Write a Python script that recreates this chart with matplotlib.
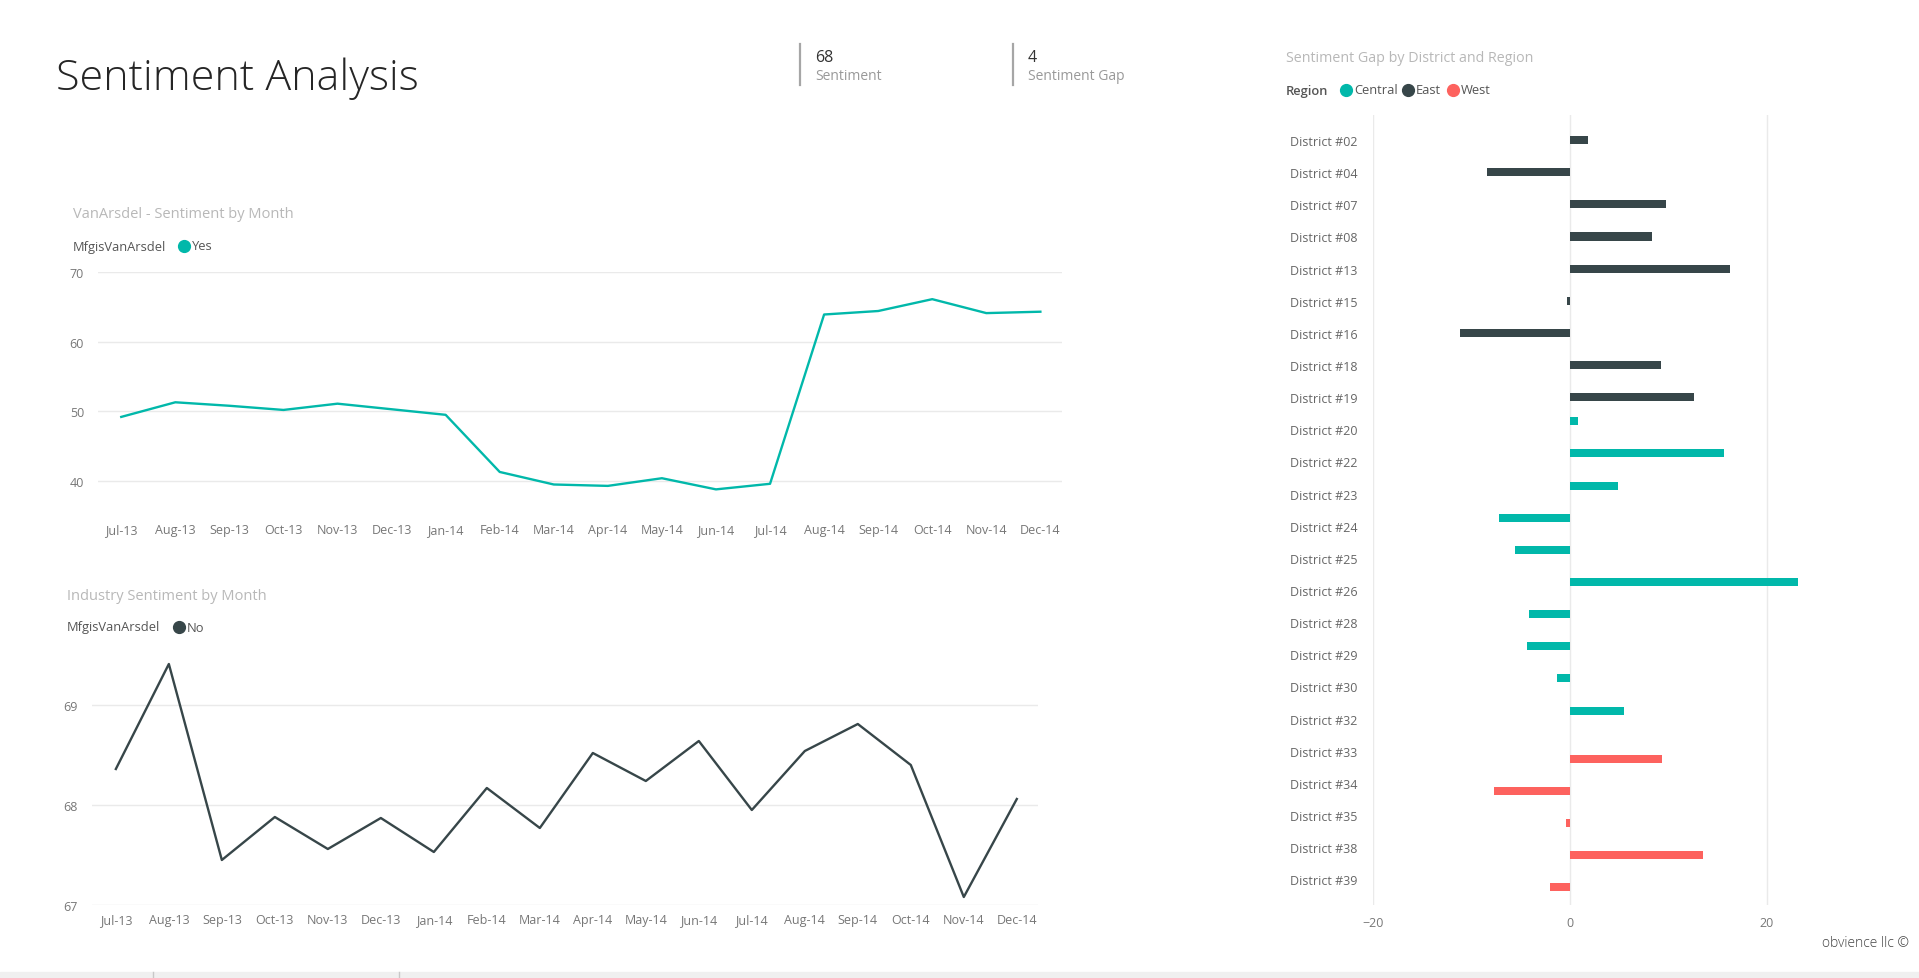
import matplotlib
matplotlib.use("Agg")
import matplotlib.pyplot as plt
from matplotlib.lines import Line2D
import numpy as np

W, H = 1919, 979
OUT_FIG = "out.png"

TEAL = "#01B8AA"
DARK = "#374649"
RED = "#FD625E"
GRID = "#eaeaea"
TICK = "#777777"
TITLE_GREY = "#b8b8b8"

MONTHS = ["Jul-13", "Aug-13", "Sep-13", "Oct-13", "Nov-13", "Dec-13",
          "Jan-14", "Feb-14", "Mar-14", "Apr-14", "May-14", "Jun-14",
          "Jul-14", "Aug-14", "Sep-14", "Oct-14", "Nov-14", "Dec-14"]

# VanArsdel (MfgisVanArsdel = Yes)
vanarsdel = [49.2, 51.3, 50.8, 50.2, 51.1, 50.3, 49.5, 41.3, 39.5,
             39.3, 40.4, 38.8, 39.6, 63.9, 64.4, 66.1, 64.1, 64.3]

# industry (MfgisVanArsdel = No)
industry = [68.36, 69.41, 67.45, 67.88, 67.56, 67.87, 67.53, 68.17, 67.77,
            68.52, 68.24, 68.64, 67.95, 68.54, 68.81, 68.40, 67.08, 68.06]

districts = ["District #02", "District #04", "District #07", "District #08",
             "District #13", "District #15", "District #16", "District #18",
             "District #19", "District #20", "District #22", "District #23",
             "District #24", "District #25", "District #26", "District #28",
             "District #29", "District #30", "District #32", "District #33",
             "District #34", "District #35", "District #38", "District #39"]
district_region = ["East"] * 9 + ["Central"] * 10 + ["West"] * 5
sentiment_gap = [1.9, -8.4, 9.8, 8.4, 16.3, -0.3, -11.2, 9.25, 12.6,
                 0.8, 15.7, 4.9, -7.2, -5.6, 23.2, -4.1, -4.3, -1.3, 5.5,
                 9.4, -7.7, -0.4, 13.5, -2.0]

REGIONS = ["Central", "East", "West"]
REGION_COLORS = {"Central": TEAL, "East": DARK, "West": RED}

KPI_SENTIMENT = "68"
KPI_GAP = "4"


def px_axes(fig, left, top, right, bottom):
    #pixel box -> figure fraction axes
    return fig.add_axes([left / W, 1 - bottom / H, (right - left) / W, (bottom - top) / H])


def ftext(fig, x, y, s, **kw):
    kw.setdefault("va", "center")
    return fig.text(x / W, 1 - y / H, s, **kw)


def legend_dot(fig, x, y, color):
    fig.add_artist(Line2D([x / W], [1 - y / H], marker="o", markersize=8.5,
                          color=color, linestyle="none", transform=fig.transFigure))


def style_line_axes(ax):
    for s in ax.spines.values():
        s.set_visible(False)
    ax.grid(axis="y", color=GRID, lw=1)
    ax.set_axisbelow(True)
    ax.tick_params(length=0, labelsize=9, labelcolor=TICK)
    ax.tick_params(axis="y", pad=10)


def plot_lines(fig):
    x = np.arange(len(MONTHS))

    ax1 = px_axes(fig, 98, 273, 1062, 505)
    ax1.plot(x, vanarsdel, color=TEAL, lw=1.7)
    ax1.set_ylim(36.7, 70)
    ax1.set_yticks([40, 50, 60, 70])
    ax1.set_xlim(-0.43, 17.4)
    ax1.set_xticks(x, MONTHS)
    style_line_axes(ax1)
    ax1.tick_params(axis="x", pad=14)

    ax2 = px_axes(fig, 92, 650, 1038, 906)
    ax2.plot(x, industry, color=DARK, lw=1.7)
    ax2.set_ylim(67, 69.56)
    ax2.set_yticks([67, 68, 69])
    ax2.set_xlim(-0.45, 17.4)
    ax2.set_xticks(x, MONTHS)
    style_line_axes(ax2)
    ax2.tick_params(axis="x", pad=5.5)

    ftext(fig, 73, 214, "VanArsdel - Sentiment by Month", fontsize=10.5, color=TITLE_GREY)
    ftext(fig, 73, 247, "MfgisVanArsdel", fontsize=9.3, color="#555555")
    legend_dot(fig, 184, 247, TEAL)
    ftext(fig, 192, 247, "Yes", fontsize=9.3, color="#555555")

    ftext(fig, 67, 597, "Industry Sentiment by Month", fontsize=10.5, color=TITLE_GREY)
    ftext(fig, 67, 628, "MfgisVanArsdel", fontsize=9.3, color="#555555")
    legend_dot(fig, 179, 628, DARK)
    ftext(fig, 187, 628, "No", fontsize=9.3, color="#555555")


def plot_bars(fig):
    ax = px_axes(fig, 1373, 116, 1865, 906)
    y = np.arange(len(districts))
    offsets = {"Central": -0.25, "East": 0.0, "West": 0.25}
    for reg in REGIONS:
        vals = [v if r == reg else 0 for v, r in zip(sentiment_gap, district_region)]
        ax.barh(y + offsets[reg], vals, height=0.25, color=REGION_COLORS[reg])
    ax.set_ylim(23.8, -0.78)
    ax.set_yticks(y, districts)
    ax.set_xlim(-20, 30)
    ax.set_xticks([-20, 0, 20])
    for s in ax.spines.values():
        s.set_visible(False)
    ax.grid(axis="x", color=GRID, lw=1)
    ax.set_axisbelow(True)
    ax.tick_params(length=0, labelsize=9, labelcolor="#666666")
    ax.tick_params(axis="y", pad=11)
    ax.tick_params(axis="x", pad=8, labelcolor=TICK)

    ftext(fig, 1286, 59, "Sentiment Gap by District and Region", fontsize=10.3, color=TITLE_GREY)
    ftext(fig, 1286, 91, "Region", fontsize=9.3, color="#555555", fontweight="semibold")
    for reg, dx, tx in [("Central", 1346, 1354), ("East", 1408, 1416), ("West", 1453, 1461)]:
        legend_dot(fig, dx, 91, REGION_COLORS[reg])
        ftext(fig, tx, 91, reg, fontsize=9.3, color="#555555")


def plot_header(fig):
    ftext(fig, 56, 79, "Sentiment Analysis", fontsize=31, color="#252525", fontweight="light")

    for lx, val, lab in [(800, KPI_SENTIMENT, "Sentiment"), (1013, KPI_GAP, "Sentiment Gap")]:
        fig.add_artist(Line2D([lx / W, lx / W], [1 - 45 / H, 1 - 86 / H], color="#a6a6a6",
                              lw=1.6, transform=fig.transFigure))
        ftext(fig, lx + 15, 58, val, fontsize=11.5, color="#333333")
        ftext(fig, lx + 15, 77, lab, fontsize=10, color="#999999")

    ftext(fig, 1909, 944, "obvience llc \u00a9", fontsize=10, color="#444444", ha="right",
          fontweight="light")

    # tab strip at the bottom
    fig.add_artist(plt.Rectangle((0, 0), 1, 6 / H, color="#f0f0f0", transform=fig.transFigure))
    for bx in [153, 399]:
        fig.add_artist(Line2D([bx / W, bx / W], [0, 6 / H], color="#c8c8c8", lw=1,
                              transform=fig.transFigure))


def main():
    plt.rcParams["font.family"] = ["Open Sans", "DejaVu Sans"]
    fig = plt.figure(figsize=(W / 100, H / 100), dpi=100, facecolor="white")
    plot_header(fig)
    plot_lines(fig)
    plot_bars(fig)
    fig.savefig(OUT_FIG, dpi=100, facecolor="white")


if __name__ == "__main__":
    main()
